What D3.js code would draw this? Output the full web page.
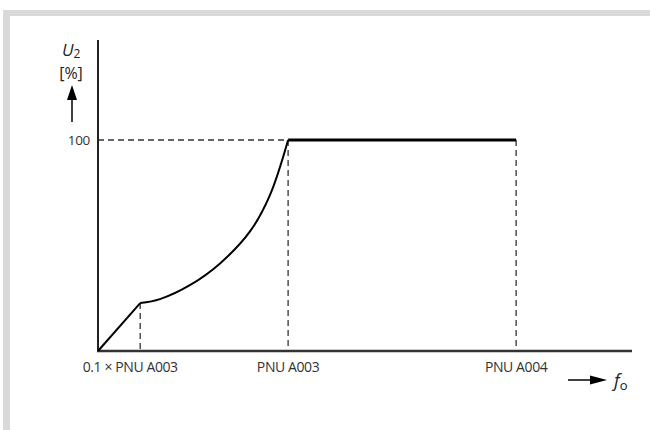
<!DOCTYPE html>
<html><head><meta charset="utf-8">
<script src="https://cdn.jsdelivr.net/npm/d3@7"></script>
<style>body{margin:0;background:#fff}svg{display:block}</style>
</head><body><svg id="c" width="650" height="430"></svg>
<script>
// schematic x positions (percent of axis length), y in %
const xTickLabels = ["0.1 × PNU A003", "PNU A003", "PNU A004"];
const xTickPos = [7.9, 35.6, 78.3];
const yTickLabels = ["100"];
const yTickVals = [100];
const rampX = [0, 7.9];
const rampY = [0, 22.7];
const curveX = [7.9, 11.6, 17.2, 22.8, 28.5, 32.2, 35.6];
const curveY = [22.7, 24.6, 31.2, 41.4, 56.8, 73.9, 100];
const flatX = [35.6, 78.3];
const flatY = [100, 100];

const svg = d3.select("#c");
const F = "'Open Sans', 'Liberation Sans', sans-serif";
// frame
svg.append("rect").attr("x",3).attr("y",10).attr("width",647).attr("height",6).attr("fill","#d9d9d9");
svg.append("rect").attr("x",3).attr("y",10).attr("width",7).attr("height",420).attr("fill","#d9d9d9");

const x = d3.scaleLinear().domain([0,100]).range([98,632]);
const y = d3.scaleLinear().domain([0,100]).range([351,140]);
const yTop = 40;

// dashed guides
const g = svg.append("g").attr("stroke","#333").attr("stroke-width",1.3).attr("stroke-dasharray","6,4").attr("fill","none");
g.append("line").attr("x1",x(0)).attr("x2",x(flatX[0])).attr("y1",y(100)).attr("y2",y(100));
g.append("line").attr("x1",x(rampX[1])).attr("x2",x(rampX[1])).attr("y1",y(rampY[1])).attr("y2",y(0));
xTickPos.slice(1).forEach(p=>{
  g.append("line").attr("x1",x(p)).attr("x2",x(p)).attr("y1",y(100)).attr("y2",y(0));
});

// axes
svg.append("line").attr("x1",x(0)).attr("x2",x(0)).attr("y1",yTop).attr("y2",y(0)+1).attr("stroke","#222").attr("stroke-width",2);
svg.append("line").attr("x1",x(0)-1).attr("x2",x(100)).attr("y1",y(0)).attr("y2",y(0)).attr("stroke","#333").attr("stroke-width",2.5);

// curve
const L = d3.line().x(d=>x(d[0])).y(d=>y(d[1]));
svg.append("path").datum(rampX.map((v,i)=>[v,rampY[i]])).attr("d",L)
  .attr("fill","none").attr("stroke","#000").attr("stroke-width",2);
svg.append("path").datum(curveX.map((v,i)=>[v,curveY[i]])).attr("d",L.curve(d3.curveCatmullRom.alpha(0.5)))
  .attr("fill","none").attr("stroke","#000").attr("stroke-width",2);
svg.append("path").datum(flatX.map((v,i)=>[v,flatY[i]])).attr("d",d3.line().x(d=>x(d[0])).y(d=>y(d[1])))
  .attr("fill","none").attr("stroke","#000").attr("stroke-width",3);

// tick labels
svg.selectAll(".xt").data(xTickLabels).enter().append("text")
  .attr("x",(d,i)=>x(xTickPos[i])-(i==0?10:0)).attr("y",372).attr("text-anchor","middle")
  .attr("font-family",F).attr("font-size",14).attr("fill","#333").attr("letter-spacing",-0.4).text(d=>d);
svg.selectAll(".yt").data(yTickLabels).enter().append("text")
  .attr("x",90).attr("y",(d,i)=>y(yTickVals[i])+5).attr("text-anchor","end")
  .attr("font-family",F).attr("font-size",13.5).attr("fill","#333").attr("letter-spacing",-0.3).text(d=>d);

// y label
const yl = svg.append("text").attr("x",62).attr("y",56).attr("font-family",F).attr("font-size",17).attr("fill","#222");
yl.append("tspan").attr("font-style","italic").text("U");
yl.append("tspan").attr("font-size",12).attr("dy",2).text("2");
svg.append("text").attr("x",71).attr("y",79).attr("text-anchor","middle").attr("font-family",F).attr("font-size",16).attr("fill","#222").text("[%]");
svg.append("line").attr("x1",72).attr("x2",72).attr("y1",122).attr("y2",98).attr("stroke","#000").attr("stroke-width",1.5);
svg.append("path").attr("d","M67,100 L72,85 L77,100 Z").attr("fill","#000");

// x label
svg.append("line").attr("x1",568).attr("x2",594).attr("y1",380).attr("y2",380).attr("stroke","#000").attr("stroke-width",1.5);
svg.append("path").attr("d","M590,375.5 L607,380 L590,384.5 Z").attr("fill","#000");
const xl = svg.append("text").attr("x",614).attr("y",387).attr("font-family",F).attr("font-size",18).attr("fill","#222");
xl.append("tspan").attr("font-style","italic").text("f");
xl.append("tspan").attr("font-size",13).attr("dy",3).text("o");
</script></body></html>
